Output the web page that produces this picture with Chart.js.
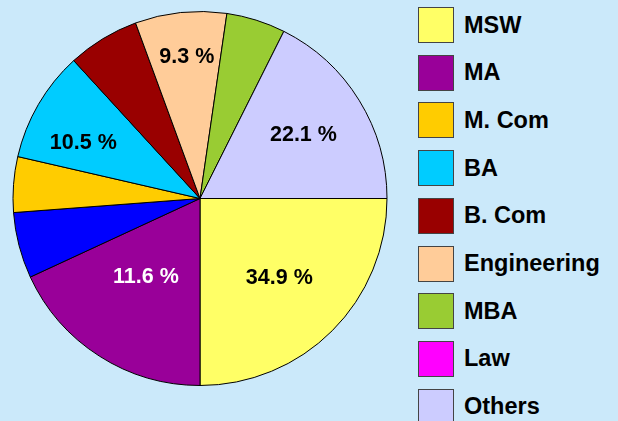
<!DOCTYPE html>
<html lang="en">
<head>
  <meta charset="UTF-8" />
  <title>Courses pie</title>
  <script src="https://cdn.jsdelivr.net/npm/chart.js"></script>
  <style>
    body {
      margin: 0;
      background: #cbe9fa;
      font-family: "Liberation Sans", Arial, sans-serif;
      width: 618px;
      height: 421px;
      overflow: hidden;
      position: relative;
    }
    #pie {
      position: absolute;
      left: 0;
      top: 0;
    }
    .legend-item {
      position: absolute;
      left: 418px;
      height: 36px;
      display: flex;
      align-items: center;
    }
    .legend-box {
      width: 34px;
      height: 34px;
      border: 1px solid #444;
      margin-right: 10px;
    }
    .legend-text {
      font-weight: bold;
      font-size: 23.5px;
      color: #000;
    }
  </style>
</head>
<body>

  <canvas id="pie" width="400" height="397"></canvas>
  <div id="legend"></div>

  <script>
    // slices in drawing order (clockwise from 3 o'clock); the blue slice has no legend entry
    const categories = ['MSW', 'MA', '', 'M. Com', 'BA', 'B. Com', 'Engineering', 'MBA', 'Law', 'Others'];
    const shares = [25.0, 18.1, 5.7, 4.8, 9.6, 6.2, 7.9, 5.1, 0, 17.6];
    const colors = ['#ffff66', '#990099', '#0000ff', '#ffcc00', '#00ccff', '#990000', '#ffcc99', '#99cc33', '#ff00ff', '#ccccff'];
    const sliceLabels = ['34.9 %', '11.6 %', '', '', '10.5 %', '', '9.3 %', '', '', '22.1 %'];

    // label placement / style (fraction of radius from centre, angle nudge in degrees)
    const labelRadius = [0.6, 0.51, 0, 0, 0.69, 0, 0.76, 0, 0, 0.65];
    const labelShift = [0, 2, 0, 0, -5, 0, 0.6, 0, 0, 0];
    const labelColors = ['#000', '#fff', '#000', '#000', '#000', '#000', '#000', '#000', '#000', '#000'];

    const sliceLabelPlugin = {
      id: 'sliceLabels',
      afterDatasetsDraw(chart) {
        const ctx = chart.ctx;
        const meta = chart.getDatasetMeta(0);
        ctx.save();
        ctx.font = 'bold 21.5px "Liberation Sans", Arial, sans-serif';
        ctx.textAlign = 'center';
        ctx.textBaseline = 'middle';
        meta.data.forEach((arc, i) => {
          if (!sliceLabels[i]) return;
          const p = arc.getProps(['x', 'y', 'startAngle', 'endAngle', 'outerRadius'], true);
          const mid = (p.startAngle + p.endAngle) / 2 + labelShift[i] * Math.PI / 180;
          const r = p.outerRadius * labelRadius[i];
          ctx.fillStyle = labelColors[i];
          ctx.fillText(sliceLabels[i], p.x + Math.cos(mid) * r, p.y + Math.sin(mid) * r);
        });
        ctx.restore();
      }
    };

    new Chart(document.getElementById('pie'), {
      type: 'pie',
      data: {
        labels: categories,
        datasets: [{
          data: shares,
          backgroundColor: colors,
          borderColor: '#000',
          borderWidth: 1
        }]
      },
      options: {
        responsive: false,
        animation: false,
        rotation: 90,
        radius: 187,
        layout: { padding: 0 },
        plugins: {
          legend: { display: false },
          tooltip: { enabled: false }
        }
      },
      plugins: [sliceLabelPlugin]
    });

    // legend on the right
    const legend = document.getElementById('legend');
    let row = 0;
    categories.forEach((name, i) => {
      if (!name) return;
      const item = document.createElement('div');
      item.className = 'legend-item';
      item.style.top = (7 + row * 47.7) + 'px';
      const box = document.createElement('div');
      box.className = 'legend-box';
      box.style.background = colors[i];
      const text = document.createElement('span');
      text.className = 'legend-text';
      text.textContent = name;
      item.appendChild(box);
      item.appendChild(text);
      legend.appendChild(item);
      row++;
    });
  </script>
</body>
</html>
